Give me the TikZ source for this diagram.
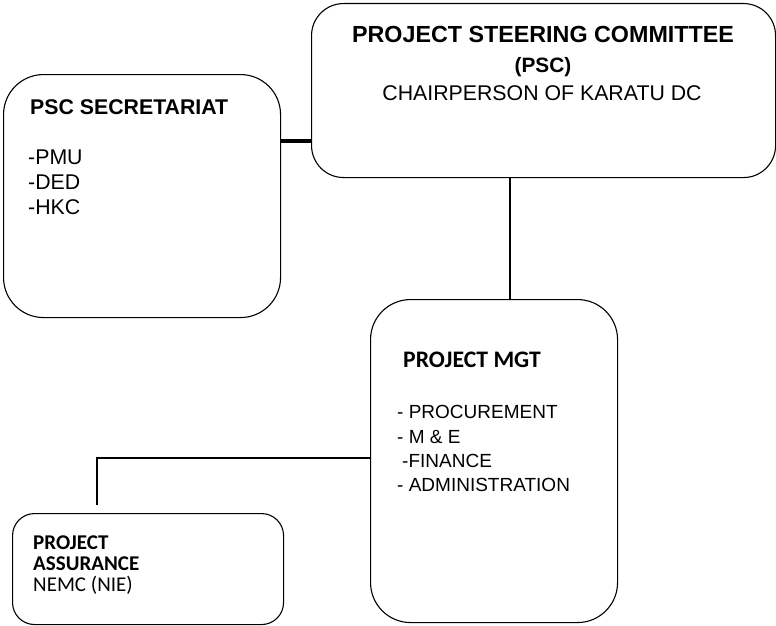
\documentclass[tikz,border=0pt]{standalone}
\usepackage{fontspec}
\setmainfont{Liberation Sans}
\newfontfamily\calib{Carlito}
\begin{document}
\begin{tikzpicture}[x=1pt,y=-1pt,
  box/.style={draw, line width=1.1pt, anchor=north west, inner sep=0pt},
  txt/.style={anchor=base west, inner sep=0pt},
  ctxt/.style={anchor=base, inner sep=0pt},
  conn/.style={line width=2pt}]
\useasboundingbox (0,0) rectangle (776,626);
% boxes
\node[box, rounded corners=32pt, minimum width=464pt, minimum height=174pt] (psc) at (311,3) {};
\node[box, rounded corners=40pt, minimum width=277pt, minimum height=243pt] (sec) at (3,74) {};
\node[box, rounded corners=40pt, minimum width=247pt, minimum height=323pt] (mgt) at (370,299) {};
\node[box, rounded corners=22pt, minimum width=271pt, minimum height=111pt] (pa) at (12,513) {};
% helper coordinates
\coordinate (ysec) at (0,141);
\coordinate (xpsc) at (510,0);
\coordinate (ypa) at (0,458);
\coordinate (paend) at (97,505);
% connectors
\draw[line width=3.5pt] (sec.east |- ysec) -- (psc.west |- ysec);
\draw[conn] (psc.south -| xpsc) -- (mgt.north -| xpsc);
\draw[line width=1.8pt] (mgt.west |- ypa) -| (paend);
% PSC text
\node[ctxt, font=\bfseries\fontsize{23.3}{26}\selectfont] (t1) at (543,43) {PROJECT STEERING COMMITTEE};
\node[ctxt, font=\bfseries\fontsize{20.8}{24}\selectfont] (t2) at (543,72) {(PSC)};
\node[ctxt, font=\fontsize{21.3}{24}\selectfont] (t3) at (542,100) {CHAIRPERSON OF KARATU DC};
% Secretariat text
\node[txt, font=\bfseries\fontsize{21.3}{24}\selectfont] (s1) at (30,114) {PSC SECRETARIAT};
\node[txt, font=\fontsize{21.3}{24}\selectfont] (s2) at (28,164) {-PMU};
\node[txt, font=\fontsize{21.3}{24}\selectfont] (s3) at (28,189) {-DED};
\node[txt, font=\fontsize{21.3}{24}\selectfont] (s4) at (28,214) {-HKC};
% MGT text
\node[txt, font=\calib\bfseries\fontsize{23.7}{26}\selectfont] (m1) at (403,367) {PROJECT MGT};
\node[txt, font=\fontsize{19}{22}\selectfont] (m2) at (397,418) {- PROCUREMENT};
\node[txt, font=\fontsize{19}{22}\selectfont] (m3) at (397,443) {- M \& E};
\node[txt, font=\fontsize{19}{22}\selectfont] (m4) at (402,467) {-FINANCE};
\node[txt, font=\fontsize{19}{22}\selectfont] (m5) at (397,491) {- ADMINISTRATION};
% Assurance text
\node[txt, font=\calib\bfseries\fontsize{21}{22}\selectfont] (a1) at (33,549) {PROJECT};
\node[txt, font=\calib\bfseries\fontsize{21}{22}\selectfont] (a2) at (33,570) {ASSURANCE};
\node[txt, font=\calib\fontsize{21}{22}\selectfont] (a3) at (33,591) {NEMC (NIE)};
\end{tikzpicture}
\end{document}
